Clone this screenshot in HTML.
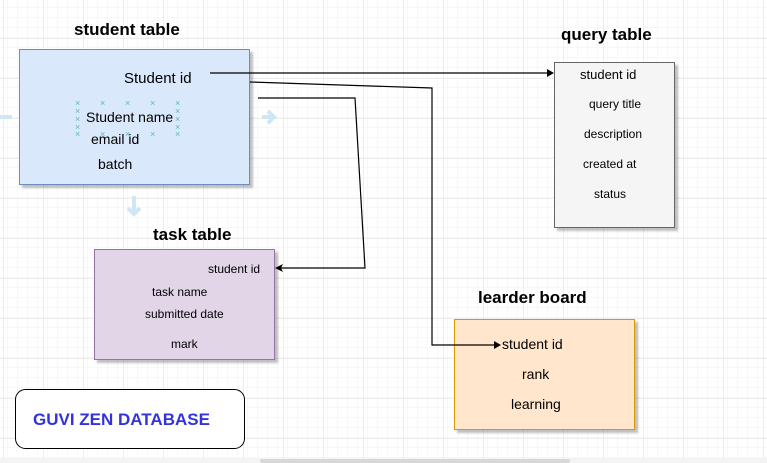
<!DOCTYPE html>
<html><head><style>
body{margin:0;width:767px;height:463px;overflow:hidden;background:#fff;font-family:"Liberation Sans",Arial,sans-serif;}
svg{position:absolute;left:0;top:0}
</style></head><body>
<svg width="767" height="463" viewBox="0 0 767 463" font-family="Liberation Sans, Arial, sans-serif">
<defs>
<pattern id="minor" width="10" height="10" patternUnits="userSpaceOnUse" x="4" y="-1">
<path d="M10 0V10H0" fill="none" stroke="#f0f0f0" stroke-width="1"/></pattern>
<pattern id="major" width="40" height="40" patternUnits="userSpaceOnUse" x="4" y="-1">
<rect width="40" height="40" fill="url(#minor)"/>
<path d="M40 0V40H0" fill="none" stroke="#dcdcdc" stroke-width="1"/></pattern>
<filter id="sh"><feDropShadow dx="3" dy="3" stdDeviation="1" flood-color="#000" flood-opacity="0.25"/></filter>
</defs>
<rect width="767" height="458" fill="url(#major)"/>
<rect x="0" y="458" width="767" height="5" fill="#f4f4f4"/>
<rect x="260" y="459" width="310" height="4" rx="2" fill="#d8d8d8"/>

<!-- faint arrows -->
<path d="M0 117h12" stroke="#cfe6f5" stroke-width="4"/>
<path d="M262 117h12 M268 111l6 6-6 6" stroke="#cfe6f5" stroke-width="4" fill="none"/>
<path d="M134 196v16 M128 208l6 6 6-6" stroke="#cfe6f5" stroke-width="4" fill="none"/>

<!-- student table -->
<text x="74" y="35" font-size="17" font-weight="bold">student table</text>
<rect x="19.5" y="49.5" width="230" height="135" fill="#dae8fc" stroke="#6c8ebf" filter="url(#sh)"/>
<text x="124" y="83" font-size="15">Student id</text>
<g fill="#5bb" font-size="9">
<text x="75" y="106">×</text><text x="100" y="106">×</text><text x="125" y="106">×</text><text x="150" y="106">×</text><text x="175" y="106">×</text>
<text x="75" y="114">×</text><text x="75" y="122">×</text><text x="75" y="130">×</text><text x="75" y="137">×</text>
<text x="175" y="114">×</text><text x="175" y="122">×</text><text x="175" y="130">×</text><text x="175" y="137">×</text>
<text x="100" y="137">×</text><text x="125" y="137">×</text><text x="150" y="137">×</text>
</g>
<text x="86" y="122" font-size="14">Student name</text>
<text x="91" y="144" font-size="14">email id</text>
<text x="98" y="169" font-size="14">batch</text>

<!-- query table -->
<text x="561" y="40" font-size="17" font-weight="bold">query table</text>
<rect x="554.5" y="62.5" width="120" height="165" fill="#f5f5f5" stroke="#666" filter="url(#sh)"/>
<text x="580" y="79" font-size="13">student id</text>
<text x="589" y="108" font-size="12">query title</text>
<text x="584" y="138" font-size="12">description</text>
<text x="583" y="168" font-size="12">created at</text>
<text x="594" y="198" font-size="12">status</text>

<!-- task table -->
<text x="153" y="240" font-size="17" font-weight="bold">task table</text>
<rect x="94.5" y="249.5" width="180" height="110" fill="#e1d5e7" stroke="#9673a6" filter="url(#sh)"/>
<text x="208" y="273" font-size="12">student id</text>
<text x="152" y="296" font-size="12">task name</text>
<text x="145" y="318" font-size="12">submitted date</text>
<text x="171" y="348" font-size="12">mark</text>

<!-- leader board -->
<text x="478" y="303" font-size="17" font-weight="bold">learder board</text>
<rect x="454.5" y="319.5" width="180" height="110" fill="#ffe6cc" stroke="#d79b00" filter="url(#sh)"/>
<text x="502" y="349" font-size="14">student id</text>
<text x="522" y="379" font-size="14">rank</text>
<text x="511" y="409" font-size="14">learning</text>

<!-- connectors -->
<g stroke="#000" stroke-width="1.2" fill="none">
<path d="M210 73H548"/>
<path d="M250 82L432 88V345H496"/>
<path d="M258 98H355L365 268H281"/>
</g>
<g fill="#000">
<path d="M554 73l-7-4v8z"/>
<path d="M501 345l-7-4v8z"/>
<path d="M275 268l8-4-2 4 2 4z"/>
</g>

<!-- guvi -->
<rect x="15.5" y="389.5" width="229" height="59" rx="10" fill="#fff" stroke="#000"/>
<text x="33" y="425" font-size="17" font-weight="bold" fill="#3333dd">GUVI ZEN DATABASE</text>
</svg>
</body></html>
